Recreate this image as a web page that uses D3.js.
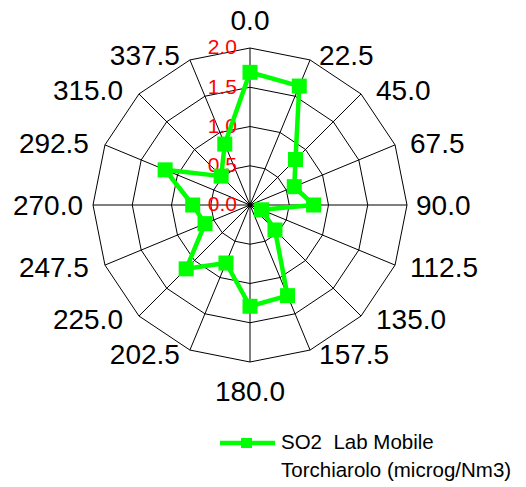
<!DOCTYPE html>
<html>
<head>
<meta charset="utf-8">
<script src="https://cdn.jsdelivr.net/npm/d3@7"></script>
<style>
html,body{margin:0;padding:0;background:#fff;}
svg{display:block;font-family:"Liberation Sans",Arial,sans-serif;}
</style>
</head>
<body>
<svg id="chart" width="526" height="487"></svg>
<script>
// Data
const directions = [0,22.5,45,67.5,90,112.5,135,157.5,180,202.5,225,247.5,270,292.5,315,337.5];
const directionLabels = ["0.0","22.5","45.0","67.5","90.0","112.5","135.0","157.5","180.0","202.5","225.0","247.5","270.0","292.5","315.0","337.5"];
const so2Values = [1.69,1.64,0.82,0.61,0.81,0.16,0.45,1.25,1.29,0.80,1.15,0.62,0.73,1.17,0.52,0.84];
const radialTicks = [0,0.5,1.0,1.5,2.0];
const radialTickLabels = ["0.0","0.5","1.0","1.5","2.0"];
const seriesName = ["SO2  Lab Mobile","Torchiarolo (microg/Nm3)"];

const svg = d3.select("#chart");
const cx = 250, cy = 205, R = 157;
const r = d3.scaleLinear().domain([0,2]).range([0,R]);
const ang = d3.scaleLinear().domain([0,360]).range([0,2*Math.PI]);
const g = svg.append("g").attr("transform",`translate(${cx},${cy})`);

function pt(a, v){ const t = ang(a); return [r(v)*Math.sin(t), -r(v)*Math.cos(t)]; }

// rings
radialTicks.filter(d=>d>0).forEach(v=>{
  g.append("path")
    .attr("d", d3.line()(directions.map(a=>pt(a,v))) + "Z")
    .attr("fill","none").attr("stroke","#000").attr("stroke-width",1);
});
// spokes
directions.forEach(a=>{
  const p = pt(a,2);
  g.append("line").attr("x1",0).attr("y1",0).attr("x2",p[0]).attr("y2",p[1])
    .attr("stroke","#000").attr("stroke-width",1);
});
g.append("circle").attr("r",2.5).attr("fill","#000");

// radial tick labels
g.selectAll("text.rt").data(radialTicks).enter().append("text")
  .attr("class","rt")
  .attr("x",-13).attr("y",d=>-r(d)-1)
  .attr("dy","0.35em")
  .attr("text-anchor","end")
  .attr("fill","#ff0000")
  .attr("font-size",21)
  .text((d,i)=>radialTickLabels[i]);

// direction labels
directions.forEach((a,i)=>{
  const t = ang(a), s = Math.sin(t), c = Math.cos(t);
  const v = pt(a,2);
  let x, y, anchor;
  if (Math.abs(s) < 0.01) {
    anchor = "middle"; x = v[0]; y = v[1] + (c>0 ? -28 : 29);
  } else {
    anchor = s>0 ? "start" : "end";
    x = v[0] + (s>0 ? 9 : -10) + (Math.abs(s)>0.5 && Math.abs(s)<0.95 ? Math.sign(s)*6 : 0);
    y = v[1] - 5*c;
  }
  g.append("text").attr("x",x).attr("y",y).attr("dy","0.35em")
    .attr("text-anchor",anchor).attr("font-size",28).attr("fill","#000")
    .text(directionLabels[i]);
});

// series line
const pts = directions.map((a,i)=>pt(a,so2Values[i]));
g.append("path").attr("d", d3.line()(pts)+"Z")
  .attr("fill","none").attr("stroke","#00ff00").attr("stroke-width",4.5)
  .attr("stroke-linejoin","round");
const ms = 15;
g.selectAll("rect.m").data(pts).enter().append("rect")
  .attr("class","m")
  .attr("x",d=>d[0]-ms/2).attr("y",d=>d[1]-ms/2)
  .attr("width",ms).attr("height",ms).attr("fill","#00ff00");

// legend
const lg = svg.append("g");
lg.append("line").attr("x1",220).attr("x2",275).attr("y1",443).attr("y2",443)
  .attr("stroke","#00ff00").attr("stroke-width",4.5);
lg.append("rect").attr("x",241).attr("y",438).attr("width",11).attr("height",10).attr("fill","#00ff00");
lg.selectAll("text").data(seriesName).enter().append("text")
  .attr("x",281).attr("y",(d,i)=>449+i*28)
  .attr("font-size",20.5).attr("fill","#000")
  .style("white-space","pre")
  .text(d=>d);
</script>
</body>
</html>
